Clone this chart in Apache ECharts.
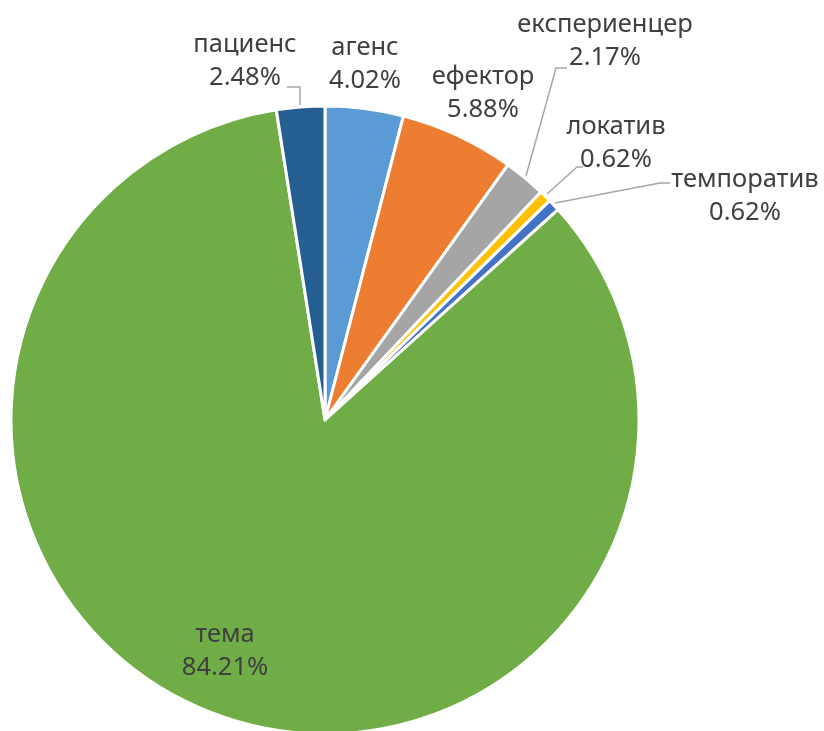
<!DOCTYPE html>
<html>
<head>
<meta charset="utf-8">
<script src="https://cdn.jsdelivr.net/npm/echarts@6/dist/echarts.min.js"></script>
<style>
html, body { margin: 0; padding: 0; background: #fff; }
#chart { width: 824px; height: 731px; }
</style>
</head>
<body>
<div id="chart"></div>
<script>
// семантичні ролі, за годинниковою стрілкою від верху
var roles = ['агенс', 'ефектор', 'експериенцер', 'локатив', 'темпоратив', 'тема', 'пациенс'];
var shares = [4.02, 5.88, 2.17, 0.62, 0.62, 84.21, 2.48];
var colors = ['#5B9BD5', '#ED7D31', '#A5A5A5', '#FFC000', '#4472C4', '#70AD47', '#255E91'];

// де стоять підписи (центр тексту) і хвостики до них
var labelSpots = [
	{ x: 365, y: 64 },
	{ x: 483, y: 93 },
	{ x: 605, y: 41, line: [[526, 176], [556, 68], [567, 68]] },
	{ x: 616, y: 143, line: [[547, 194], [577, 167], [583, 167]] },
	{ x: 745, y: 196, line: [[555, 203], [660, 183], [670, 183]] },
	{ x: 225, y: 651 },
	{ x: 245, y: 61, line: [[300, 105], [300, 87], [287, 87]] }
];

var pieData = [];
for (var i = 0; i < roles.length; i++) {
	pieData.push({
		name: roles[i],
		value: shares[i],
		itemStyle: { color: colors[i] },
		labelLine: { show: !!labelSpots[i].line }
	});
}

var chart = echarts.init(document.getElementById('chart'));
chart.setOption({
	animation: false,
	series: [{
		type: 'pie',
		center: [325, 420],
		radius: 314,
		startAngle: 90,
		clockwise: true,
		itemStyle: {
			borderColor: '#fff',
			borderWidth: 3
		},
		label: {
			show: true,
			position: 'outside',
			formatter: '{b}\n{d}%',
			fontFamily: 'Noto Sans',
			fontSize: 25.5,
			lineHeight: 33,
			color: '#404040',
			overflow: 'none'
		},
		labelLine: {
			show: true,
			lineStyle: { color: '#A6A6A6', width: 1.5 }
		},
		labelLayout: function (params) {
			var s = labelSpots[params.dataIndex];
			var res = { x: s.x, y: s.y, align: 'center', verticalAlign: 'middle', width: 200 };
			if (s.line) res.labelLinePoints = s.line;
			return res;
		},
		data: pieData
	}]
});
</script>
</body>
</html>
